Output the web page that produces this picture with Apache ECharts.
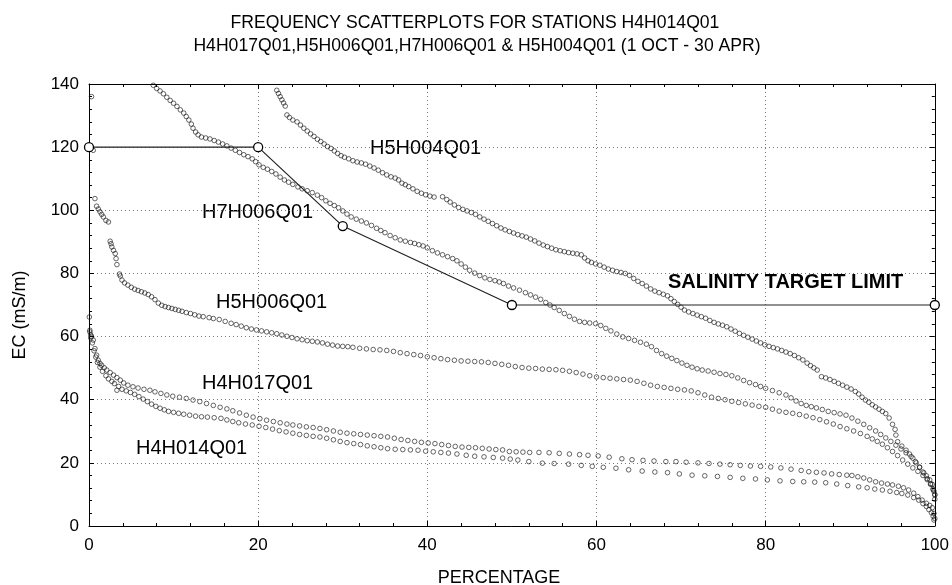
<!DOCTYPE html>
<html>
<head>
<meta charset="utf-8">
<script src="https://cdn.jsdelivr.net/npm/echarts@6/dist/echarts.min.js"></script>
<style>
html,body{margin:0;padding:0;background:#fff;}
#chart{width:952px;height:585px;}
</style>
</head>
<body>
<div id="chart"></div>
<script>
// ---- data ----
const xTicks = [0, 20, 40, 60, 80, 100];
const yTicks = [0, 20, 40, 60, 80, 100, 120, 140];
const titleLine1 = 'FREQUENCY SCATTERPLOTS FOR STATIONS H4H014Q01';
const titleLine2 = 'H4H017Q01,H5H006Q01,H7H006Q01 & H5H004Q01 (1 OCT - 30 APR)';
const xName = 'PERCENTAGE';
const yName = 'EC (mS/m)';
const seriesNames = ['H5H004Q01', 'H7H006Q01', 'H5H006Q01', 'H4H017Q01', 'H4H014Q01'];
const targetName = 'SALINITY TARGET LIMIT';

const targetLimit = [[0,120],[20,120],[30,95],[50,70],[100,70]];

const h5h004 = [
[22.2,138],[22.4,137],[22.6,136],[22.8,135],[23.0,134],[23.2,133],[23.4,130.2],[23.7,129.4],[24.1,128.6],[24.6,128],
[25.0,127],[25.4,126],[25.8,125.1],[26.2,124.2],[26.6,123.4],[27.0,122.5],[27.4,121.8],[27.8,121],[28.2,120.2],[28.6,119.6],
[29.0,118.8],[29.4,118],[29.8,117.3],[30.2,116.8],[30.7,116.3],[31.2,115.7],[31.7,115.3],[32.2,115],[32.7,114.6],[33.2,114],
[33.7,113.4],[34.2,112.7],[34.7,111.9],[35.2,111.2],[35.7,110.6],[36.2,110.2],[36.6,109.6],[37.0,108.6],[37.4,108.1],[37.8,107.5],
[38.3,106.8],[38.8,106],[39.3,105.4],[39.8,104.9],[40.3,104.5],[40.8,104.2],[41.8,104.3],[42.3,103.4],[42.7,102.6],[43.2,101.7],
[43.7,100.9],[44.2,100.3],[44.7,99.8],[45.2,99.3],[45.7,98.7],[46.2,97.9],[46.7,97.2],[47.2,96.5],[47.7,95.8],[48.2,95.1],
[48.7,94.4],[49.2,93.8],[49.7,93.3],[50.2,92.8],[50.7,92.3],[51.2,91.9],[51.7,91.5],[52.2,90.9],[52.7,90.3],[53.2,89.6],
[53.7,89],[54.2,88.5],[54.7,88],[55.2,87.5],[55.7,87.2],[56.2,86.9],[56.7,86.6],[57.2,86.4],[57.7,86.2],[58.2,85.9],
[58.6,84.9],[59.0,84],[59.4,83.5],[59.9,83],[60.4,82.6],[60.9,82],[61.4,81.4],[61.9,81],[62.4,80.6],[62.9,80.3],
[63.4,80],[63.9,79.4],[64.4,78.4],[64.9,77.5],[65.4,76.8],[65.9,76],[66.4,75.1],[66.9,74.4],[67.4,73.9],[67.9,73.4],
[68.4,72.9],[68.8,72],[69.2,71.1],[69.6,70.2],[70.0,69.3],[70.4,68.4],[70.9,67.8],[71.4,67.3],[71.9,66.8],[72.4,66.3],
[72.9,65.8],[73.4,65.1],[73.9,64.5],[74.4,64],[74.9,63.6],[75.4,63.1],[75.9,62.4],[76.4,61.7],[76.9,61],[77.4,60.4],
[77.9,59.8],[78.4,59.2],[78.9,58.6],[79.4,58],[79.9,57.4],[80.4,56.9],[80.9,56.5],[81.4,56.1],[81.9,55.6],[82.4,55.1],
[82.9,54.6],[83.4,54],[83.9,53.3],[84.4,52.6],[84.9,51.6],[85.3,50.8],[85.7,50.1],[86.1,49.4],[86.6,47.3],[87.1,46.9],
[87.6,46.4],[88.1,45.8],[88.6,45.2],[89.1,44.6],[89.6,44],[90.1,43.4],[90.6,42.6],[91.0,41.8],[91.4,40.8],[91.8,39.9],
[92.2,39.2],[92.6,38.4],[93.0,37.7],[93.4,37],[93.8,36.3],[94.2,35.6],[94.6,34.2],[95.0,32.2],[95.3,30.6],[95.4,28.8],
[95.6,26.7],[96.1,25.3],[96.6,24],[97.0,22.8],[97.4,21.5],[97.8,20],[98.2,18.5],[98.6,17.1],[99.0,15.9],[99.4,14.6],
[99.7,13.2],[99.9,11],[100,8.5]
];

const h7h006 = [
[7.6,139.6],[8.0,138.6],[8.4,137.8],[8.8,136.9],[9.2,135.8],[9.6,134.8],[10.0,133.9],[10.4,132.9],[10.8,131.8],[11.2,130.8],
[11.5,129.7],[11.8,128.6],[12.1,127.3],[12.3,126],[12.6,124.8],[12.9,123.9],[13.3,123.2],[13.8,122.9],[14.3,122.6],[14.8,122.1],
[15.3,121.6],[15.8,121],[16.3,120.4],[16.8,119.7],[17.3,119],[17.8,118.3],[18.3,117.6],[18.8,117],[19.3,116.3],[19.7,115.4],
[20.1,114.4],[20.6,113.6],[21.1,113],[21.6,112.3],[22.1,111.5],[22.6,110.5],[23.1,109.6],[23.6,108.9],[24.1,108.2],[24.7,107.4],
[25.2,106.8],[25.8,106.2],[26.4,105.6],[27.0,104.8],[27.5,104],[28.0,103],[28.5,102.2],[29.0,101.5],[29.5,100.8],[30.0,99.8],
[30.5,98.8],[31.0,97.9],[31.6,97.2],[32.2,96.6],[32.8,96],[33.4,95.2],[34.0,94.3],[34.5,93.6],[35.0,92.9],[35.6,92],
[36.2,91.3],[36.8,90.6],[37.4,90.2],[38.0,89.8],[38.5,89.5],[39.0,89.1],[39.5,88.7],[40.0,88.1],[40.6,87.2],[41.2,86.5],
[41.8,85.9],[42.4,85.3],[43.0,84.7],[43.5,84],[44.0,83],[44.5,82],[45.0,81],[45.6,80.1],[46.2,79.3],[46.8,78.6],
[47.4,78.1],[48.0,77.7],[48.5,77.3],[49.0,76.8],[49.6,76],[50.2,75.4],[50.9,74.7],[51.6,73.9],[52.2,73.2],[52.8,72.5],
[53.4,71.8],[54.0,70.8],[54.5,70],[55.0,69.2],[55.6,68.3],[56.2,67.3],[56.8,66.4],[57.4,65.5],[58.0,64.8],[58.6,64.5],
[59.2,64.3],[59.9,64.1],[60.5,63.5],[61.1,62.6],[61.7,61.8],[62.4,60.8],[63.1,59.9],[63.8,59.4],[64.5,58.8],[65.2,58.2],
[65.9,57.6],[66.5,56.8],[67.1,55.6],[67.7,54.6],[68.3,53.8],[68.9,53.1],[69.5,52.4],[70.1,51.6],[70.7,50.9],[71.3,50.3],
[71.9,49.8],[72.5,49.4],[73.2,49.1],[73.9,48.7],[74.6,48.3],[75.3,48],[76.0,47.6],[76.7,46.9],[77.4,46.1],[78.1,45.4],
[78.8,44.8],[79.4,44.2],[80.0,43.6],[80.8,42.9],[81.6,42.2],[82.4,41.5],[83.0,40.6],[83.6,39.6],[84.2,38.8],[84.8,38.2],
[85.4,37.8],[86.0,37.4],[86.7,36.9],[87.4,36.3],[88.1,35.9],[88.8,35.5],[89.5,35.1],[90.2,34.2],[90.9,33.2],[91.6,32.2],
[92.3,31.1],[93.0,30.1],[93.6,29],[94.2,27.9],[94.8,26.8],[95.4,25.6],[96.0,24.4],[96.6,23.2],[97.2,22],[97.7,20.4],
[98.2,18.7],[98.7,16.8],[99.1,15],[99.5,13.2],[99.8,11.5],[100,9.8]
];

const h5h006 = [
[0.3,136],[0.5,119],[0.7,103.7],[0.9,101.3],[1.1,100.4],[1.3,99.5],[1.5,98.7],[1.7,97.9],[2.0,96.8],[2.3,96.3],
[2.5,90.2],[2.6,89.4],[2.7,88.4],[2.9,87.3],[3.1,86.3],[3.2,84.7],[3.3,82.8],[3.6,79.8],[3.7,79.2],[3.9,77.9],
[4.2,77],[4.6,76.3],[5.0,75.6],[5.4,75],[5.8,74.6],[6.2,74.2],[6.6,73.8],[7.0,73.3],[7.4,72.6],[7.8,71.7],
[8.2,70.6],[8.6,69.9],[9.0,69.5],[9.4,69.2],[9.8,68.9],[10.2,68.6],[10.6,68.3],[11.0,68],[11.5,67.6],[12.0,67.3],
[12.5,66.9],[13.0,66.5],[13.5,66.3],[14.2,66],[14.7,65.7],[15.4,65.4],[16.1,64.8],[16.8,64.2],[17.4,63.8],[18.0,63.3],
[18.6,62.8],[19.2,62.4],[19.8,62.1],[20.4,61.8],[21.0,61.5],[21.6,61.2],[22.2,60.9],[22.8,60.5],[23.4,60.1],[24.0,59.7],
[24.6,59.3],[25.2,59],[25.8,58.7],[26.4,58.5],[27.0,58.3],[27.6,58],[28.2,57.6],[28.8,57.3],[29.4,57],[30.0,56.9],
[30.6,56.8],[31.2,56.6],[32.0,56.3],[32.8,56.1],[33.6,55.9],[34.4,55.8],[35.2,55.6],[36.0,55.3],[36.8,54.9],[37.6,54.6],
[38.4,54.3],[39.2,54],[40.0,53.6],[40.8,53.3],[41.6,53],[42.4,52.7],[43.2,52.5],[44.0,52.3],[44.8,52.2],[45.6,52.1],
[46.4,52],[47.2,51.8],[48.0,51.5],[48.8,51.2],[49.6,50.9],[50.4,50.5],[51.2,50.2],[52.0,50],[52.8,49.9],[53.6,49.7],
[54.4,49.6],[55.2,49.5],[56.0,49.3],[56.8,49],[57.6,48.6],[58.4,48.1],[59.2,47.6],[60.0,47.2],[60.8,47],[61.6,46.8],
[62.4,46.6],[63.2,46.4],[64.0,46.2],[64.8,45.8],[65.6,45.2],[66.4,44.6],[67.2,44.2],[68.0,43.9],[68.8,43.6],[69.6,43.3],
[70.4,43.1],[71.2,42.8],[72.0,42.2],[72.8,41.5],[73.6,40.8],[74.4,40.4],[75.2,40],[76.0,39.5],[76.8,39.1],[77.6,38.7],
[78.4,38.3],[79.2,37.9],[80.0,37.6],[80.8,37],[81.6,36.4],[82.4,36],[83.2,35.7],[84.0,35.3],[84.8,34.8],[85.6,34.3],
[86.4,33.7],[87.2,33],[88.0,32.3],[88.8,31.5],[89.6,30.8],[90.4,30.1],[91.2,29.3],[92.0,28.4],[92.6,27.6],[93.2,26.8],
[93.8,25.9],[94.4,24.8],[95.0,23.6],[95.6,22.3],[96.2,20.9],[96.8,19.6],[97.4,18.4],[98.0,17.3],[98.6,16],[99.1,14.7],
[99.5,13.4],[99.8,11.8],[100,10]
];

const h4h017 = [
[0.04,66.2],[0.1,61.5],[0.2,60.6],[0.3,60],[0.5,58.9],[0.7,56.2],[0.9,54.1],[1.1,52.5],[1.3,51.5],[1.5,50.9],
[1.8,50.1],[2.1,49.4],[2.5,48.6],[2.9,47.8],[3.3,47],[3.7,46.2],[4.1,45.3],[4.6,44.6],[5.2,44.1],[5.8,43.7],
[6.5,43.3],[7.2,43],[7.8,42.5],[8.5,42],[9.2,41.5],[9.9,41.1],[10.7,40.8],[11.5,40.4],[12.3,39.9],[13.1,39.4],
[13.9,38.8],[14.7,38.2],[15.5,37.6],[16.3,37.1],[17.0,36.5],[17.8,35.8],[18.6,35.1],[19.4,34.5],[20.2,34],[21.0,33.5],
[21.8,33.1],[22.6,32.7],[23.4,32.3],[24.1,32],[24.9,31.7],[25.7,31.4],[26.5,31.2],[27.3,30.9],[28.1,30.5],[28.9,30.1],
[29.7,29.7],[30.5,29.4],[31.3,29.2],[32.1,29],[32.9,28.8],[33.7,28.6],[34.5,28.4],[35.3,28.2],[36.1,27.8],[36.9,27.4],
[37.7,27.1],[38.5,26.8],[39.3,26.5],[40.1,26.3],[40.9,26.1],[41.7,25.8],[42.5,25.5],[43.3,25.2],[44.1,25],[44.9,24.9],
[45.7,24.8],[46.5,24.6],[47.3,24.4],[48.1,24.2],[48.9,24.1],[49.7,23.6],[50.5,23.5],[51.3,23.4],[52.1,23.3],[53.2,23.3],
[54.4,23.2],[55.6,23],[56.8,22.8],[58.0,22.6],[59.0,22.4],[60.2,22.2],[61.5,21.8],[63.0,21.3],[64.2,21],[65.5,20.8],
[66.8,20.6],[68.2,20.4],[69.4,20.4],[70.6,20.2],[72.0,20],[73.3,19.8],[74.6,19.6],[75.8,19.4],[77.0,19.2],[78.2,19],
[79.4,18.9],[80.6,18.7],[81.8,18.4],[83.0,18],[84.2,17.6],[85.1,17.2],[86.0,17],[86.9,16.8],[87.8,16.5],[88.7,16.3],
[89.6,16.1],[90.2,16],[90.9,15.6],[91.6,15.2],[92.3,14.6],[93.0,14],[93.7,13.6],[94.4,13.3],[95.0,13],[95.7,12.6],
[96.3,12.1],[96.9,11.4],[97.5,10.4],[98.0,9.3],[98.5,8.2],[99.0,7.2],[99.4,6.5],[99.7,5.8],[99.9,4],[100,2.4]
];

const h4h014 = [
[0.1,62],[0.2,59.6],[0.4,58],[0.6,55.5],[0.8,53.5],[1.0,51.8],[1.3,50.3],[1.6,49],[2.0,47.6],[2.3,46.6],
[2.7,45.8],[3.0,45.1],[3.3,43],[3.5,44.2],[3.9,43.3],[4.4,42.8],[4.9,42.3],[5.4,41.7],[5.9,41],[6.4,40.2],
[6.9,39.4],[7.4,38.6],[7.9,37.9],[8.4,37.3],[8.9,36.8],[9.4,36.3],[10.0,36],[10.6,35.7],[11.2,35.4],[11.9,35.1],
[12.6,34.8],[13.3,34.6],[14.0,34.5],[14.8,34.3],[15.6,34.1],[16.3,33.6],[17.0,33.1],[17.7,32.7],[18.5,32.3],[19.3,32],
[20.1,31.6],[20.9,31.2],[21.7,30.7],[22.5,30.2],[23.3,29.8],[24.1,29.4],[24.9,29],[25.7,28.7],[26.5,28.4],[27.3,28.2],
[28.1,27.8],[28.9,27.3],[29.7,26.8],[30.5,26.4],[31.3,26.1],[32.1,25.8],[32.9,25.4],[33.7,25.1],[34.5,24.8],[35.3,24.5],
[36.2,24.3],[37.1,24.2],[38.0,24.1],[38.9,24],[39.8,23.7],[40.7,23.5],[41.6,23.3],[42.5,23.1],[43.5,22.8],[44.6,22.4],
[45.6,22.1],[46.7,21.9],[47.8,21.7],[48.9,21.5],[49.8,21.2],[50.7,20.9],[52.0,20.4],[53.6,19.9],[55.0,19.8],[56.7,19.6],
[58.2,19.2],[59.5,18.9],[60.8,18.6],[62.3,18.3],[63.8,17.8],[65.4,17.4],[66.9,17.1],[68.4,16.9],[69.8,16.5],[71.3,16.1],
[72.8,15.9],[74.3,15.7],[75.8,15.4],[77.3,15.1],[78.8,14.9],[80.2,14.6],[81.7,14.3],[83.2,14.1],[84.5,14],[85.8,13.9],
[87.1,13.7],[88.4,13.3],[89.7,12.8],[91.0,12.4],[92.0,12.1],[92.9,11.7],[93.8,11.4],[94.7,11],[95.5,10.6],[96.1,10.3],
[96.8,9.8],[97.5,9],[98.1,8.2],[98.6,7.1],[99.0,6.2],[99.3,5.2],[99.6,4.2],[99.8,3.1],[99.9,1.9]
];

// ---- chart ----
const FONT = '"Liberation Sans", Arial, Helvetica, sans-serif';
const chart = echarts.init(document.getElementById('chart'), null, {renderer: 'canvas'});

function axisCommon(showLabels) {
  return {
    axisLine: {show: true, onZero: false, lineStyle: {color: '#000', width: 1}},
    axisTick: {show: true, inside: true, length: 5, lineStyle: {color: '#000'}},
    minorTick: {show: true, splitNumber: 5, length: 3, lineStyle: {color: '#000'}},
    splitLine: {show: false},
    axisLabel: {show: showLabels, color: '#000', fontSize: 17, fontFamily: FONT}
  };
}

const pointStyle = {color: 'rgba(255,255,255,0)', borderColor: '#111', borderWidth: 0.8};
const datasets = [h5h004, h7h006, h5h006, h4h017, h4h014];

const option = {
  backgroundColor: '#fff',
  animation: false,
  grid: {left: 89, right: 16, top: 84, bottom: 59, containLabel: false},
  xAxis: [
    Object.assign({type: 'value', position: 'bottom', min: xTicks[0], max: xTicks[xTicks.length - 1], interval: 20}, axisCommon(true), {
      splitLine: {show: true, lineStyle: {color: '#777', type: [1, 3], width: 1}},
      axisLabel: {show: true, color: '#000', fontSize: 17, fontFamily: FONT, margin: 11}
    }),
    Object.assign({type: 'value', position: 'top', min: xTicks[0], max: xTicks[xTicks.length - 1], interval: 20}, axisCommon(false))
  ],
  yAxis: [
    Object.assign({type: 'value', position: 'left', min: yTicks[0], max: yTicks[yTicks.length - 1], interval: 20}, axisCommon(true), {
      splitLine: {show: true, lineStyle: {color: '#777', type: [1, 3], width: 1}},
      axisLabel: {show: true, color: '#000', fontSize: 17, fontFamily: FONT, margin: 10}
    }),
    Object.assign({type: 'value', position: 'right', min: yTicks[0], max: yTicks[yTicks.length - 1], interval: 20}, axisCommon(false))
  ],
  series: datasets.map((d, i) => ({
    name: seriesNames[i],
    type: 'scatter',
    xAxisIndex: 0,
    yAxisIndex: 0,
    symbol: 'circle',
    symbolSize: 4.6,
    itemStyle: pointStyle,
    data: d,
    z: 2
  })).concat([{
    name: targetName,
    type: 'line',
    xAxisIndex: 0,
    yAxisIndex: 0,
    data: targetLimit,
    symbol: 'circle',
    symbolSize: 9,
    showAllSymbol: true,
    lineStyle: {color: '#222', width: 1.2},
    itemStyle: {color: '#fff', borderColor: '#000', borderWidth: 1.3},
    z: 5
  }]),
  graphic: [
    {type: 'text', x: 475, y: 23, style: {text: titleLine1, fill: '#000', font: '17.6px ' + FONT, textAlign: 'center', textVerticalAlign: 'middle'}},
    {type: 'text', x: 477, y: 46, style: {text: titleLine2, fill: '#000', font: '17.6px ' + FONT, textAlign: 'center', textVerticalAlign: 'middle'}},
    {type: 'text', x: 499, y: 578, style: {text: xName, fill: '#000', font: '18px ' + FONT, textAlign: 'center', textVerticalAlign: 'middle'}},
    {type: 'text', x: 20, y: 315, rotation: Math.PI / 2, style: {text: yName, fill: '#000', font: '18px ' + FONT, textAlign: 'center', textVerticalAlign: 'middle'}},
    {type: 'text', x: 370, y: 148, style: {text: seriesNames[0], fill: '#000', font: '20px ' + FONT, textAlign: 'left', textVerticalAlign: 'middle'}},
    {type: 'text', x: 202, y: 212, style: {text: seriesNames[1], fill: '#000', font: '20px ' + FONT, textAlign: 'left', textVerticalAlign: 'middle'}},
    {type: 'text', x: 216, y: 302, style: {text: seriesNames[2], fill: '#000', font: '20px ' + FONT, textAlign: 'left', textVerticalAlign: 'middle'}},
    {type: 'text', x: 202, y: 383, style: {text: seriesNames[3], fill: '#000', font: '20px ' + FONT, textAlign: 'left', textVerticalAlign: 'middle'}},
    {type: 'text', x: 136, y: 448, style: {text: seriesNames[4], fill: '#000', font: '20px ' + FONT, textAlign: 'left', textVerticalAlign: 'middle'}},
    {type: 'text', x: 668, y: 282, style: {text: targetName, fill: '#000', font: 'bold 20px ' + FONT, textAlign: 'left', textVerticalAlign: 'middle'}}
  ]
};
chart.setOption(option);
</script>
</body>
</html>
